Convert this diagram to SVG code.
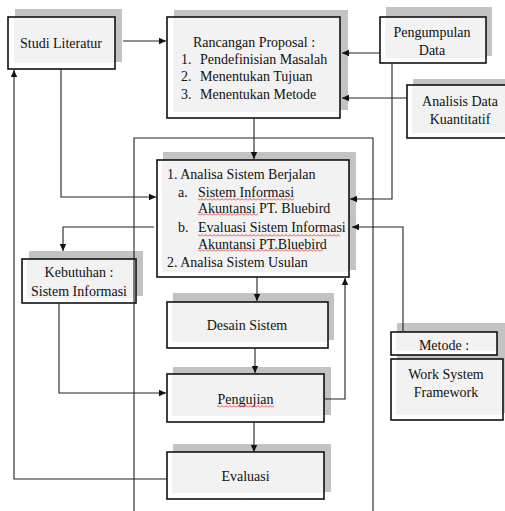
<svg xmlns="http://www.w3.org/2000/svg" width="505" height="511" viewBox="0 0 505 511">
<defs>
<style>
.sh{fill:#c3c3c3}
.bx{fill:#ffffff;stroke:#111;stroke-width:1.6}
.in{fill:#f2f2f2}
text{font-family:"Liberation Serif","Times New Roman",serif;font-size:14px;fill:#111}
.c{text-anchor:middle}
.ln{fill:none;stroke:#222;stroke-width:1.1}
.sq{fill:url(#sq)}
</style>
<marker id="ah" markerWidth="8" markerHeight="8" refX="7" refY="4" orient="auto" markerUnits="userSpaceOnUse">
<path d="M0,0.8 L7,4 L0,7.2 Z" fill="#111"/>
</marker>
<pattern id="sq" width="4" height="3" patternUnits="userSpaceOnUse">
<path d="M0,2.5 L2,0.5 L4,2.5" fill="none" stroke="#e0201a" stroke-width="0.8"/>
</pattern>
</defs>
<rect width="505" height="511" fill="#ffffff"/>

<g id="studi">
<rect class="sh" x="15" y="9" width="107" height="53"/>
<rect class="bx" x="8" y="17" width="107" height="52"/>
<rect class="in" x="14" y="18" width="100" height="45"/>
<text class="c" x="61" y="48">Studi Literatur</text>
</g>

<g id="rancangan">
<rect class="sh" x="174" y="10" width="174" height="100"/>
<rect class="bx" x="167" y="17" width="173" height="101"/>
<rect class="in" x="173" y="18" width="166" height="94"/>
<text class="c" x="254" y="47">Rancangan Proposal :</text>
<text x="181" y="64">1.</text><text x="200" y="64">Pendefinisian Masalah</text>
<text x="181" y="81">2.</text><text x="200" y="81">Menentukan Tujuan</text>
<text x="181" y="99">3.</text><text x="200" y="99">Menentukan Metode</text>
</g>

<g id="pengumpulan">
<rect class="sh" x="386" y="7" width="106" height="49"/>
<rect class="bx" x="380" y="17" width="106" height="46"/>
<rect class="in" x="385" y="18" width="100" height="40"/>
<text class="c" x="432" y="37">Pengumpulan</text>
<text class="c" x="432" y="55">Data</text>
</g>

<g id="analisis">
<rect class="sh" x="413" y="79" width="100" height="50"/>
<rect class="bx" x="407" y="85" width="106" height="53"/>
<rect class="in" x="412" y="86" width="100" height="47"/>
<text class="c" x="460" y="106">Analisis Data</text>
<text class="c" x="460" y="124">Kuantitatif</text>
</g>

<g id="analisa">
<rect class="sh" x="163" y="152" width="193" height="118"/>
<rect class="bx" x="157" y="160" width="192" height="117"/>
<rect class="in" x="162" y="161" width="186" height="111"/>
<text x="167" y="179">1. Analisa Sistem Berjalan</text>
<text x="178" y="197">a.</text><text x="198" y="197">Sistem Informasi</text>
<text x="198" y="213">Akuntansi PT. Bluebird</text>
<text x="178" y="232">b.</text><text x="198" y="232">Evaluasi Sistem Informasi</text>
<text x="198" y="249">Akuntansi PT.Bluebird</text>
<text x="167" y="267">2. Analisa Sistem Usulan</text>
<rect class="sq" x="198" y="198" width="96" height="3"/>
<rect class="sq" x="198" y="213" width="60" height="3"/>
<rect class="sq" x="198" y="234" width="142" height="3"/>
<rect class="sq" x="198" y="249" width="125" height="3"/>
</g>

<g id="kebutuhan">
<rect class="sh" x="29" y="251" width="114" height="45"/>
<rect class="bx" x="22" y="259" width="114" height="44"/>
<rect class="in" x="27" y="260" width="108" height="38"/>
<text class="c" x="79" y="277">Kebutuhan :</text>
<text class="c" x="79" y="296">Sistem Informasi</text>
</g>

<g id="desain">
<rect class="sh" x="173" y="293" width="161" height="47"/>
<rect class="bx" x="167" y="302" width="161" height="46"/>
<rect class="in" x="172" y="303" width="155" height="39"/>
<text class="c" x="247" y="330">Desain Sistem</text>
</g>

<g id="pengujian">
<rect class="sh" x="173" y="367" width="158" height="48"/>
<rect class="bx" x="167" y="374" width="157" height="48"/>
<rect class="in" x="172" y="375" width="151" height="41"/>
<text class="c" x="245.5" y="404">Pengujian</text>
<rect class="sq" x="217" y="405" width="57" height="3"/>
</g>

<g id="evaluasi">
<rect class="sh" x="173" y="444" width="158" height="48"/>
<rect class="bx" x="167" y="452" width="157" height="47"/>
<rect class="in" x="172" y="453" width="151" height="40"/>
<text class="c" x="245.5" y="481">Evaluasi</text>
</g>

<g id="metode">
<rect class="sh" x="397" y="323" width="112" height="90"/>
<rect class="bx" x="391" y="332" width="106" height="23"/>
<rect class="in" x="396" y="333" width="100" height="18"/>
<text class="c" x="444" y="350">Metode :</text>
</g>

<g id="framework">
<rect class="bx" x="391" y="359" width="112" height="61"/>
<rect class="in" x="396" y="360" width="106" height="55"/>
<text class="c" x="446" y="379">Work System</text>
<text class="c" x="446" y="397">Framework</text>
</g>

<g id="connectors">
<path class="ln" d="M134,511 V138 H373 V511"/>
<path class="ln" d="M123,41 H166" marker-end="url(#ah)"/>
<path class="ln" d="M380,53 H342" marker-end="url(#ah)"/>
<path class="ln" d="M407,98 H342" marker-end="url(#ah)"/>
<path class="ln" d="M392,63 V199 H350" marker-end="url(#ah)"/>
<path class="ln" d="M254,118 V159" marker-end="url(#ah)"/>
<path class="ln" d="M61,69 V197 H156" marker-end="url(#ah)"/>
<path class="ln" d="M154,227 H63 V251" marker-end="url(#ah)"/>
<path class="ln" d="M403,331 V227 H352" marker-end="url(#ah)"/>
<path class="ln" d="M257,277 V301" marker-end="url(#ah)"/>
<path class="ln" d="M255,348 V373" marker-end="url(#ah)"/>
<path class="ln" d="M254,422 V452" marker-end="url(#ah)"/>
<path class="ln" d="M59,303 V393 H166" marker-end="url(#ah)"/>
<path class="ln" d="M324,399 H345 V278" marker-end="url(#ah)"/>
<path class="ln" d="M167,479 H14 V70" marker-end="url(#ah)"/>
</g>
</svg>
